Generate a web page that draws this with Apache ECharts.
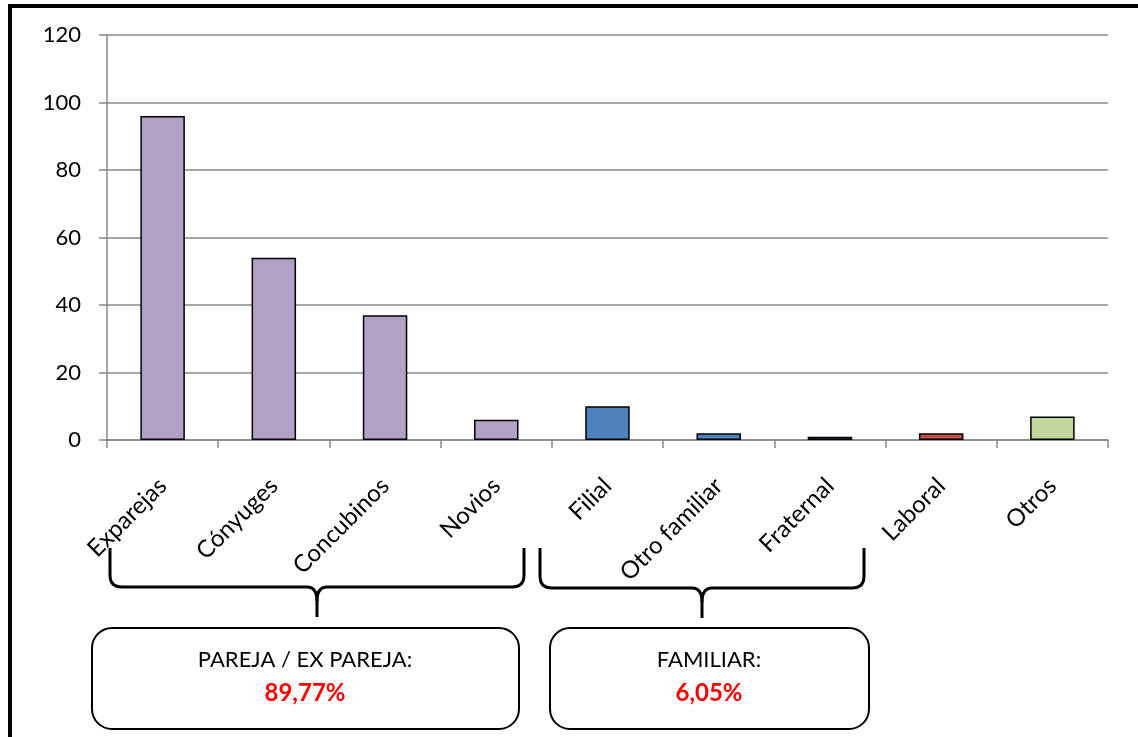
<!DOCTYPE html>
<html>
<head>
<meta charset="utf-8">
<script src="https://cdn.jsdelivr.net/npm/echarts@6/dist/echarts.min.js"></script>
<style>html,body{margin:0;padding:0;background:#fff;}#c{width:1138px;height:737px;}</style>
</head>
<body>
<div id="c"></div>
<script>
const categories = ['Exparejas', 'Cónyuges', 'Concubinos', 'Novios', 'Filial', 'Otro familiar', 'Fraternal', 'Laboral', 'Otros'];
const values = [96, 54, 37, 6, 10, 2, 1, 2, 7];
const groups = ['pareja', 'pareja', 'pareja', 'pareja', 'familiar', 'familiar', 'familiar', 'laboral', 'otros'];
const groupColors = { pareja: '#B2A1C7', familiar: '#4F81BD', laboral: '#C0504D', otros: '#C3D69B' };
const yTicks = [0, 20, 40, 60, 80, 100, 120];
const boxLabels = ['PAREJA / EX PAREJA:', 'FAMILIAR:'];
const boxValues = ['89,77%', '6,05%'];

const FONT = 'Lato, "Open Sans", sans-serif';
const chart = echarts.init(document.getElementById('c'));

const st = { fill: 'none', stroke: '#000', lineWidth: 3 };
function brace(x1, x2, yTop, yBar, yTip) {
  const xm = (x1 + x2) / 2, r = 12;
  const L = (a, b, c, d) => ({ type: 'line', shape: { x1: a, y1: b, x2: c, y2: d }, style: st });
  const Q = (a, b, cx, cy, c, d) => ({ type: 'bezierCurve', shape: { x1: a, y1: b, cpx1: cx, cpy1: cy, x2: c, y2: d }, style: st });
  return [
    L(x1, yTop, x1, yBar - r),
    Q(x1, yBar - r, x1, yBar, x1 + r, yBar),
    L(x1 + r, yBar, xm - 10, yBar),
    Q(xm - 10, yBar, xm, yBar, xm, yBar + 14),
    L(xm, yBar + 14, xm, yTip),
    Q(xm, yBar + 14, xm, yBar, xm + 10, yBar),
    L(xm + 10, yBar, x2 - r, yBar),
    Q(x2 - r, yBar, x2, yBar, x2, yBar - r),
    L(x2, yBar - r, x2, yTop)
  ];
}

chart.setOption({
  animation: false,
  backgroundColor: '#fff',
  grid: { left: 107, right: 30, top: 35, bottom: 297, containLabel: false },
  xAxis: {
    type: 'category',
    data: categories,
    axisLine: { lineStyle: { color: '#888', width: 1.5 } },
    axisTick: { show: true, length: 8, lineStyle: { color: '#888', width: 1.5 } },
    axisLabel: { rotate: 45, margin: 42, fontSize: 24, color: '#000', fontFamily: FONT, interval: 0 }
  },
  yAxis: {
    type: 'value',
    min: 0, max: 120, interval: 20,
    axisLine: { show: true, lineStyle: { color: '#888', width: 1.5 } },
    axisTick: { show: true, length: 8, lineStyle: { color: '#888', width: 1.5 } },
    splitLine: { lineStyle: { color: '#888', width: 1.5 } },
    axisLabel: { margin: 26, fontSize: 22, color: '#000', fontFamily: FONT,
      formatter: v => yTicks.includes(v) ? String(v) : '' }
  },
  series: [{
    type: 'bar',
    barWidth: '40%',
    data: values.map((v, i) => ({ value: v, itemStyle: { color: groupColors[groups[i]] } })),
    itemStyle: { borderColor: '#000', borderWidth: 1.5 }
  }],
  graphic: [
    { type: 'rect', shape: { x: 10, y: 6, width: 1200, height: 800 }, style: { fill: 'none', stroke: '#000', lineWidth: 4 }, silent: true, z: 100 },
    ...brace(110, 524, 548, 587, 617),
    ...brace(540, 864, 548, 588, 618),
    { type: 'rect', shape: { x: 92, y: 628, width: 427, height: 101, r: 20 }, style: { fill: '#fff', stroke: '#000', lineWidth: 2 } },
    { type: 'rect', shape: { x: 550, y: 628, width: 319, height: 101, r: 20 }, style: { fill: '#fff', stroke: '#000', lineWidth: 2 } },
    { type: 'text', x: 305, y: 660, style: { text: boxLabels[0], fill: '#000', font: '22px ' + FONT, textAlign: 'center', textVerticalAlign: 'middle' } },
    { type: 'text', x: 305, y: 693, style: { text: boxValues[0], fill: '#FF0000', font: 'bold 24px ' + FONT, textAlign: 'center', textVerticalAlign: 'middle' } },
    { type: 'text', x: 709, y: 660, style: { text: boxLabels[1], fill: '#000', font: '22px ' + FONT, textAlign: 'center', textVerticalAlign: 'middle' } },
    { type: 'text', x: 709, y: 693, style: { text: boxValues[1], fill: '#FF0000', font: 'bold 24px ' + FONT, textAlign: 'center', textVerticalAlign: 'middle' } }
  ]
});
</script>
</body>
</html>
